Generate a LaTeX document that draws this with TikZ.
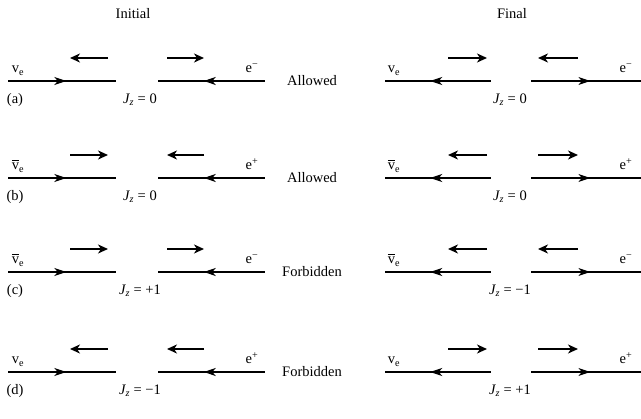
\documentclass[tikz,border=0pt]{standalone}
\usepackage{fontspec}
\setmainfont{Liberation Serif}
\usetikzlibrary{arrows.meta,decorations.markings}
\tikzset{
  track/.style={line width=1.1pt},
  trackR/.style={track,postaction={decorate},decoration={markings,mark=at position 0.54 with {\arrow{Stealth[length=12pt,width=8pt,inset=3.5pt]}}}},
  trackL/.style={track,postaction={decorate},decoration={markings,mark=at position 0.54 with {\arrow{Stealth[length=12pt,width=8pt,inset=3.5pt,reversed]}}}},
  spin/.style={line width=2.6pt,-{Stealth[length=10pt,width=9pt,inset=3pt]}},
  lbl/.style={inner sep=0pt,font=\fontsize{14.5}{15}\selectfont},
  big/.style={inner sep=0pt,font=\fontsize{14.5}{15}\selectfont},
}
\newcommand{\Jz}[1]{{\itshape J}\textsubscript{\itshape z} = #1}
\newcommand{\vbar}{\setbox0\hbox{v}\vbox{\hrule width\wd0 height0.6pt\kern2.4pt\box0}}
\begin{document}
\begin{tikzpicture}[x=1pt,y=-1pt]
\useasboundingbox (0,0) rectangle (641,419);
\node[big] (ti) at (133,14) {Initial};
\node[big] (tf) at (512,14) {Final};
\foreach \r/\y/\lab/\ni/\ei/\nf/\ef/\si/\sj/\sf/\sg/\res/\jz/\jf in {
 a/81/(a)/{v\textsubscript{e}}/{e\textsuperscript{−}}/{v\textsubscript{e}}/{e\textsuperscript{−}}/L/R/R/L/Allowed/0/0,
 b/178/(b)/{\vbar\textsubscript{e}}/{e\textsuperscript{+}}/{\vbar\textsubscript{e}}/{e\textsuperscript{+}}/R/L/L/R/Allowed/0/0,
 c/272/(c)/{\vbar\textsubscript{e}}/{e\textsuperscript{−}}/{\vbar\textsubscript{e}}/{e\textsuperscript{−}}/R/R/L/L/Forbidden/+1/−1,
 d/372/(d)/{v\textsubscript{e}}/{e\textsuperscript{+}}/{v\textsubscript{e}}/{e\textsuperscript{+}}/L/L/R/R/Forbidden/−1/+1}{
  \coordinate (\r i1) at (8,\y); \coordinate (\r i2) at (116,\y);
  \coordinate (\r i3) at (158,\y); \coordinate (\r i4) at (265,\y);
  \draw[trackR] (\r i1) -- (\r i2);
  \draw[trackL] (\r i3) -- (\r i4);
  \coordinate (\r f1) at (385,\y); \coordinate (\r f2) at (491,\y);
  \coordinate (\r f3) at (531,\y); \coordinate (\r f4) at (641,\y);
  \draw[trackL] (\r f1) -- (\r f2);
  \draw[trackR] (\r f3) -- (\r f4);
  \coordinate (\r sa) at (70,\y-23); \coordinate (\r sb) at (108,\y-23);
  \coordinate (\r sc) at (167,\y-23); \coordinate (\r sd) at (204,\y-23);
  \coordinate (\r se) at (448,\y-23); \coordinate (\r sf) at (487,\y-23);
  \coordinate (\r sg) at (538,\y-23); \coordinate (\r sh) at (578,\y-23);
  \if\si L \draw[spin] (\r sb) -- (\r sa); \else \draw[spin] (\r sa) -- (\r sb); \fi
  \if\sj L \draw[spin] (\r sd) -- (\r sc); \else \draw[spin] (\r sc) -- (\r sd); \fi
  \if\sf L \draw[spin] (\r sf) -- (\r se); \else \draw[spin] (\r se) -- (\r sf); \fi
  \if\sg L \draw[spin] (\r sh) -- (\r sg); \else \draw[spin] (\r sg) -- (\r sh); \fi
  \node[lbl,anchor=base] (\r ni) at (18,\y-8) {\ni};
  \node[lbl,anchor=base] (\r ei) at (252,\y-8) {\ei};
  \node[lbl,anchor=base] (\r nf) at (394,\y-8) {\nf};
  \node[lbl,anchor=base] (\r ef) at (626,\y-8) {\ef};
  \node[big] (\r res) at (312,\y) {\res};
  \node[big] (\r lab) at (15,\y+19) {\lab};
  \node[big] (\r jz) at (140,\y+19) {\Jz{\jz}};
  \node[big] (\r jf) at (510,\y+19) {\Jz{\jf}};
}
\end{tikzpicture}
\end{document}
